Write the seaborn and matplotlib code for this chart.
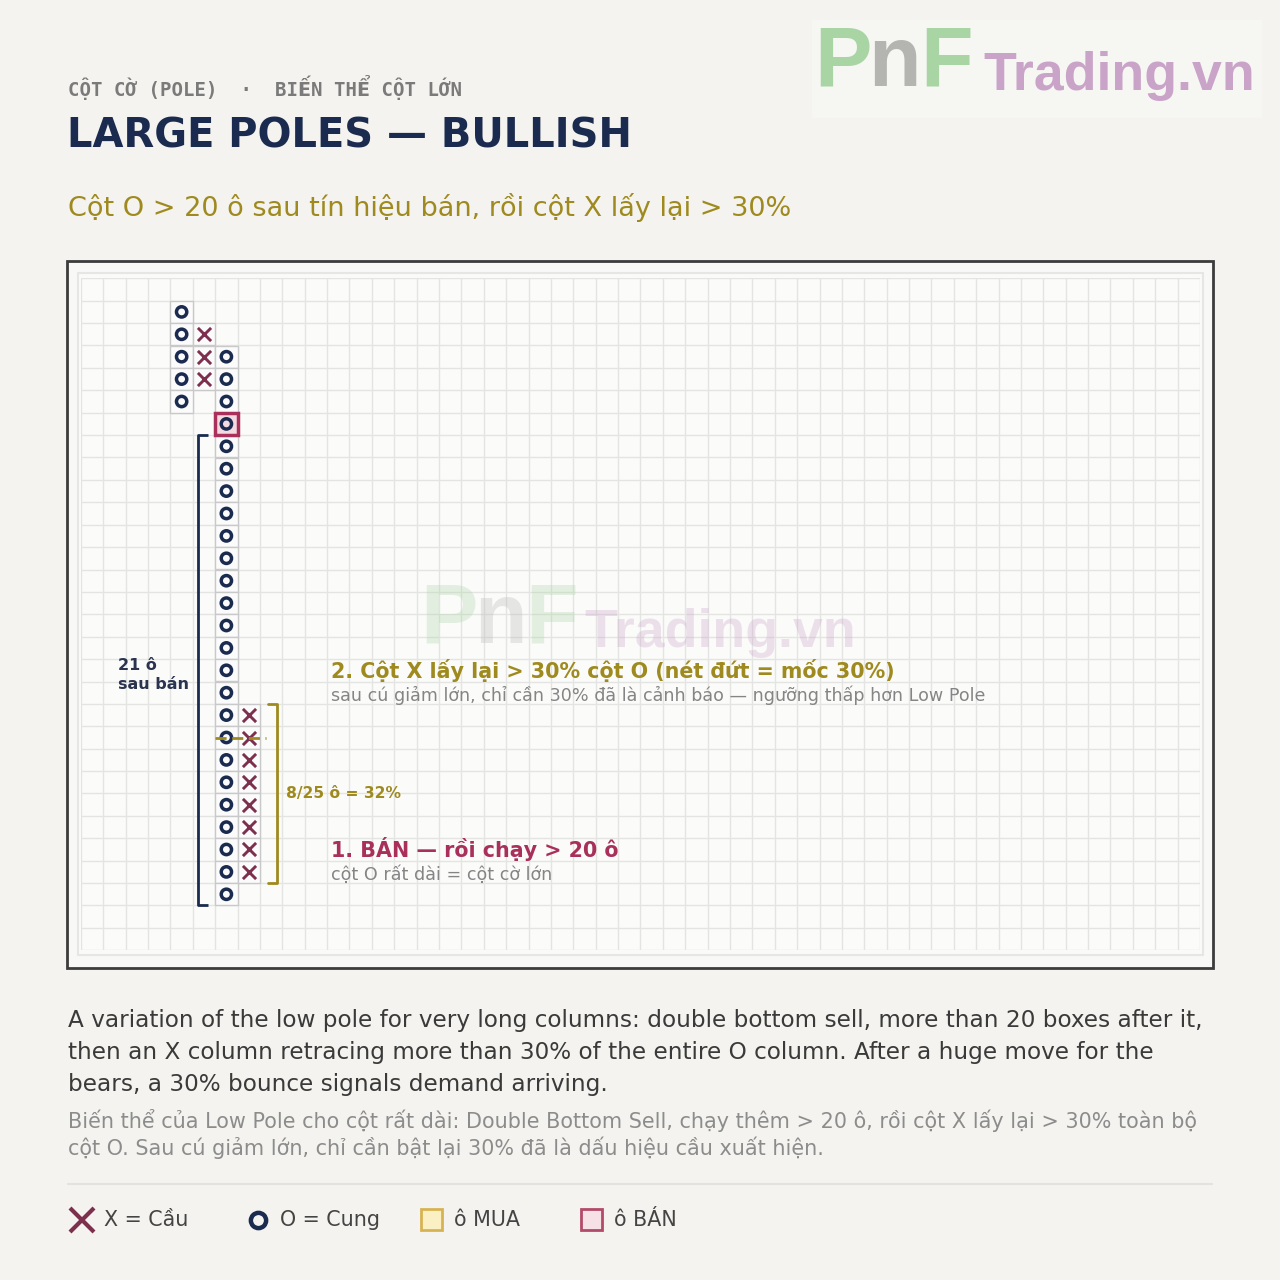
import numpy as np
import pandas as pd
import matplotlib
matplotlib.use("Agg")
import matplotlib.pyplot as plt
import seaborn as sns
from matplotlib.patches import Rectangle
from matplotlib.lines import Line2D

# ---------------- data ----------------
col_pos = [4, 5, 6, 7]            # grid column of each PnF column
col_kind = ["O", "X", "O", "X"]
col_top = [1, 2, 3, 19]           # first (top) row of each column
col_bottom = [5, 4, 27, 26]       # last (bottom) row of each column
sell_col, sell_row = 6, 6         # double bottom sell box
run_rows = [7, 27]                # 21 boxes after the sell
retrace_rows = [19, 26]           # 8 X boxes retracing
o_col_len = 25
retrace_pct = 0.30
n_cols, n_rows = 50, 30

header_tag = "CỘT CỜ (POLE)  ·  BIẾN THỂ CỘT LỚN"
title = "LARGE POLES — BULLISH"
subtitle = "Cột O > 20 ô sau tín hiệu bán, rồi cột X lấy lại > 30%"
ann2_title = "2. Cột X lấy lại > 30% cột O (nét đứt = mốc 30%)"
ann2_sub = "sau cú giảm lớn, chỉ cần 30% đã là cảnh báo — ngưỡng thấp hơn Low Pole"
ann1_title = "1. BÁN — rồi chạy > 20 ô"
ann1_sub = "cột O rất dài = cột cờ lớn"
run_label = "21 ô\nsau bán"
retrace_label = "8/25 ô = 32%"
body_en = ["A variation of the low pole for very long columns: double bottom sell, more than 20 boxes after it,",
           "then an X column retracing more than 30% of the entire O column. After a huge move for the",
           "bears, a 30% bounce signals demand arriving."]
body_vi = ["Biến thể của Low Pole cho cột rất dài: Double Bottom Sell, chạy thêm > 20 ô, rồi cột X lấy lại > 30% toàn bộ",
           "cột O. Sau cú giảm lớn, chỉ cần bật lại 30% đã là dấu hiệu cầu xuất hiện."]
legend_labels = ["X = Cầu", "O = Cung", "ô MUA", "ô BÁN"]

# ---------------- style ----------------
BG = "#f4f3ef"
NAVY = "#1b2b4f"
MAROON = "#7d2f4e"
GOLD = "#9e8a1f"
CRIMSON = "#a8305a"
GRAY = "#858585"

sns.set_theme(style="white")
plt.rcParams["font.family"] = ["DejaVu Sans"]

cells = []
for c, k, t, b in zip(col_pos, col_kind, col_top, col_bottom):
    for r in range(t, b + 1):
        cells.append({"x": c + 0.5, "y": r + 0.5, "kind": k})
df = pd.DataFrame(cells)

W = H = 1280
fig = plt.figure(figsize=(12.8, 12.8), dpi=100, facecolor=BG)

# background axes in pixel coordinates
bg = fig.add_axes([0, 0, 1, 1])
bg.set_xlim(0, W)
bg.set_ylim(H, 0)
bg.axis("off")
bg.set_facecolor(BG)

# logo box
bg.add_patch(Rectangle((812, 20), 450, 98, fc="#f6f6f3", ec="none"))
bg.text(814, 64, "P", fontsize=62, fontweight="bold", color="#a9d5a5", va="center", family="Liberation Sans")
bg.text(868, 64, "n", fontsize=62, fontweight="bold", color="#b4b4b0", va="center", family="Liberation Sans")
bg.text(920, 64, "F", fontsize=62, fontweight="bold", color="#a9d5a5", va="center", family="Liberation Sans")
bg.text(983, 76, "Trading.vn", fontsize=38.6, fontweight="bold", color="#c9a3c8", va="center",
        family="Liberation Sans")

# header texts
bg.text(68, 88, header_tag, fontsize=13.7, fontweight="bold", color="#7a7a7a", va="center",
        family=["DejaVu Sans Mono", "DejaVu Sans"])
bg.text(67, 136, title, fontsize=28.8, fontweight="bold", color=NAVY, va="center")
bg.text(68, 208, subtitle, fontsize=19.5, color=GOLD, va="center")

# chart frame
bg.add_patch(Rectangle((67, 261), 1146, 707, fc="#f8f8f6", ec="#3c3c3c", lw=2))
bg.add_patch(Rectangle((78, 273), 1125, 682, fc="#fafaf9", ec="#e6e6e4", lw=1.5))

# body text
for i, line in enumerate(body_en):
    bg.text(68, 1020 + 32 * i, line, fontsize=16.7, color="#3a3a3a", va="center")
for i, line in enumerate(body_vi):
    bg.text(68, 1120 + 28 * i, line, fontsize=14.95, color="#8c8c8c", va="center")
bg.plot([68, 1212], [1184, 1184], color="#e2e2de", lw=1.5)

# legend
ly = 1220
bg.add_line(Line2D([82], [ly], marker="x", markersize=17, mew=3, color=MAROON, ls="none"))
bg.text(104, ly, legend_labels[0], fontsize=14.9, color="#444444", va="center")
bg.add_line(Line2D([258], [ly], marker="o", markersize=11, mew=3.2, mfc="none", mec=NAVY, ls="none"))
bg.text(280, ly, legend_labels[1], fontsize=14.9, color="#444444", va="center")
bg.add_patch(Rectangle((421, 1209), 21, 21, fc="#fbefc4", ec="#d6b353", lw=2))
bg.text(454, ly, legend_labels[2], fontsize=14.9, color="#444444", va="center")
bg.add_patch(Rectangle((581, 1209), 21, 21, fc="#f6e1e7", ec="#b24a6a", lw=2))
bg.text(614, ly, legend_labels[3], fontsize=14.9, color="#444444", va="center")

# ---------------- PnF grid axes ----------------
gx0, gx1, gy0, gy1 = 80.9, 1200.0, 278.3, 950.3
ax = fig.add_axes([gx0 / W, 1 - gy1 / H, (gx1 - gx0) / W, (gy1 - gy0) / H])
ax.set_xlim(0, n_cols)
ax.set_ylim(n_rows, 0)
ax.set_facecolor("#fbfbfa")
ax.set_xticks(np.arange(0, n_cols + 1))
ax.set_yticks(np.arange(0, n_rows + 1))
ax.grid(True, color="#e4e4e2", lw=1.0)
ax.tick_params(length=0, labelbottom=False, labelleft=False)
for s in ax.spines.values():
    s.set_visible(False)
ax.set_axisbelow(True)

# watermark
ax.text(15.15, 15.3, "P", fontsize=62, fontweight="bold", color="#a9d5a5", alpha=0.3,
        va="center", family="Liberation Sans", zorder=1)
ax.text(17.55, 15.3, "n", fontsize=62, fontweight="bold", color="#b4b4b0", alpha=0.3,
        va="center", family="Liberation Sans", zorder=1)
ax.text(19.85, 15.3, "F", fontsize=62, fontweight="bold", color="#a9d5a5", alpha=0.3,
        va="center", family="Liberation Sans", zorder=1)
ax.text(22.5, 15.85, "Trading.vn", fontsize=38.6, fontweight="bold", color="#c9a3c8", alpha=0.3,
        va="center", family="Liberation Sans", zorder=1)

# cell backgrounds
for _, row in df.iterrows():
    ax.add_patch(Rectangle((row.x - 0.5, row.y - 0.5), 1, 1, fc="#fbfbfb", ec="#c9c9c9", lw=1, zorder=2))
ax.add_patch(Rectangle((sell_col, sell_row), 1, 1, fc="#f4d9e1", ec=CRIMSON, lw=2.5, zorder=3))

# marks
sns.scatterplot(data=df[df.kind == "O"], x="x", y="y", marker="o", s=55,
                facecolor="none", edgecolor=NAVY, linewidth=2.5, ax=ax, zorder=5, legend=False)
sns.scatterplot(data=df[df.kind == "X"], x="x", y="y", marker="x", s=90,
                color=MAROON, linewidth=2.1, ax=ax, zorder=5, legend=False)
ax.set_xlabel("")
ax.set_ylabel("")

# bracket: run after sell
bx = 5.25
ax.plot([bx + 0.45, bx, bx, bx + 0.45], [run_rows[0], run_rows[0], run_rows[1] + 1, run_rows[1] + 1],
        color=NAVY, lw=2, zorder=4, solid_capstyle="butt")
ax.text(1.65, 17.7, run_label, fontsize=11.5, fontweight="bold", color="#2a3350", va="center",
        linespacing=1.35)

# bracket: retrace
rx = 8.75
ax.plot([rx - 0.4, rx, rx, rx - 0.4], [retrace_rows[0], retrace_rows[0], retrace_rows[1] + 1, retrace_rows[1] + 1],
        color=GOLD, lw=2, zorder=4)
ax.text(9.15, 23.0, retrace_label, fontsize=11.2, fontweight="bold", color=GOLD, va="center")

# 30% level dashed line
level = (col_bottom[2] + 1) - retrace_pct * o_col_len
ax.plot([sell_col, 8.25], [level, level], color=GOLD, lw=2, ls=(0, (4, 2)), zorder=6)

# annotations
ax.text(11.17, 17.5, ann2_title, fontsize=14.9, fontweight="bold", color=GOLD, va="center", zorder=7)
ax.text(11.17, 18.62, ann2_sub, fontsize=12.6, color=GRAY, va="center", zorder=7)
ax.text(11.17, 25.5, ann1_title, fontsize=14.9, fontweight="bold", color=CRIMSON, va="center", zorder=7)
ax.text(11.17, 26.62, ann1_sub, fontsize=12.6, color=GRAY, va="center", zorder=7)

fig.savefig("out.png", dpi=100, facecolor=BG)
